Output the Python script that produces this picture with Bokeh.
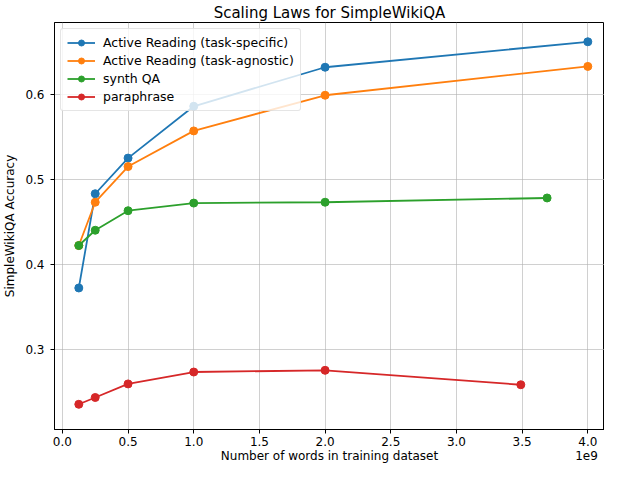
from bokeh.plotting import figure
from bokeh.models import Range1d, FixedTicker, CustomJSTickFormatter, Legend, LinearAxis
from bokeh.embed import file_html
from bokeh.resources import INLINE

# ---- data ----
x_specific = [0.125e9, 0.25e9, 0.5e9, 1.0e9, 2.0e9, 4.0e9]
y_specific = [0.372, 0.483, 0.525, 0.586, 0.632, 0.662]

x_agnostic = [0.125e9, 0.25e9, 0.5e9, 1.0e9, 2.0e9, 4.0e9]
y_agnostic = [0.422, 0.473, 0.515, 0.557, 0.599, 0.633]

x_synth = [0.125e9, 0.25e9, 0.5e9, 1.0e9, 2.0e9, 3.69e9]
y_synth = [0.422, 0.440, 0.463, 0.472, 0.473, 0.478]

x_para = [0.125e9, 0.25e9, 0.5e9, 1.0e9, 2.0e9, 3.49e9]
y_para = [0.235, 0.243, 0.259, 0.273, 0.275, 0.258]

series_names = ["Active Reading (task-specific)", "Active Reading (task-agnostic)",
                "synth QA", "paraphrase"]
x_ticks = [0, 0.5e9, 1.0e9, 1.5e9, 2.0e9, 2.5e9, 3.0e9, 3.5e9, 4.0e9]
y_ticks = [0.3, 0.4, 0.5, 0.6]
x_label = "Number of words in training dataset"
y_label = "SimpleWikiQA Accuracy"
offset_text = "1e9"

colors = ["#1f77b4", "#ff7f0e", "#2ca02c", "#d62728"]
FONT = "DejaVu Sans"

x0, x1 = -0.06e9, 4.127e9
p = figure(width=604, height=465, output_backend="svg", toolbar_location=None,
           x_range=Range1d(x0, x1), y_range=Range1d(0.2053, 0.6847),
           title="Scaling Laws for SimpleWikiQA",
           min_border_left=45, min_border_right=0, min_border_top=0, min_border_bottom=0)

p.title.text_font = FONT
p.title.text_font_size = "15px"
p.title.text_font_style = "normal"
p.title.text_color = "black"
p.title.align = "center"
p.title.standoff = 2
p.title.offset = 0

p.outline_line_color = "black"
p.outline_line_width = 1
p.background_fill_color = "white"
p.border_fill_color = "white"

for ax in (p.xaxis[0], p.yaxis[0]):
    ax.axis_line_color = "black"
    ax.major_tick_line_color = "black"
    ax.major_tick_out = 4
    ax.major_tick_in = 0
    ax.minor_tick_line_color = None
    ax.major_label_text_font = FONT
    ax.major_label_text_font_size = "12px"
    ax.major_label_text_color = "black"
    ax.axis_label_text_font = FONT
    ax.axis_label_text_font_size = "12px"
    ax.axis_label_text_font_style = "normal"
    ax.axis_label_text_color = "black"
    ax.major_label_standoff = 3
    ax.axis_label_standoff = 5
p.yaxis.major_label_standoff = 6

p.xaxis.ticker = FixedTicker(ticks=x_ticks)
p.xaxis.formatter = CustomJSTickFormatter(code="return (tick/1e9).toFixed(1);")
p.yaxis.ticker = FixedTicker(ticks=y_ticks)
p.yaxis.axis_label = y_label

# second row below the x axis: axis title (centred) and the offset text (right)
lab_axis = LinearAxis(ticker=FixedTicker(ticks=[(x0 + x1) / 2, 3.99e9]),
                      formatter=CustomJSTickFormatter(
                          args=dict(lab=x_label, off=offset_text),
                          code="return tick > 3e9 ? off : lab;"))
lab_axis.axis_line_color = None
lab_axis.major_tick_line_color = None
lab_axis.minor_tick_line_color = None
lab_axis.major_tick_out = 0
lab_axis.major_tick_in = 0
lab_axis.major_label_standoff = 0
lab_axis.major_label_text_font = FONT
lab_axis.major_label_text_font_size = "12px"
lab_axis.major_label_text_color = "black"
p.add_layout(lab_axis, "below")

p.grid.grid_line_color = "#b0b0b0"
p.grid.grid_line_alpha = 0.6
p.grid.grid_line_width = 1

items = []
all_x = [x_specific, x_agnostic, x_synth, x_para]
all_y = [y_specific, y_agnostic, y_synth, y_para]
for xs, ys, c, name in zip(all_x, all_y, colors, series_names):
    r1 = p.line(xs, ys, line_color=c, line_width=1.8)
    r2 = p.scatter(xs, ys, marker="circle", size=8, fill_color=c, line_color=c)
    items.append((name, [r1, r2]))

legend = Legend(items=items, location="top_left")
legend.label_text_font = FONT
legend.label_text_font_size = "12.5px"
legend.label_text_color = "black"
legend.glyph_width = 28
legend.glyph_height = 15
legend.label_height = 15
legend.spacing = 3
legend.padding = 6
legend.margin = 6
legend.label_standoff = 8
legend.border_line_color = "#cccccc"
legend.border_line_width = 1
legend.background_fill_alpha = 0.8
legend.border_radius = 3
p.add_layout(legend)

open("out.html", "w").write(file_html(p, INLINE))
